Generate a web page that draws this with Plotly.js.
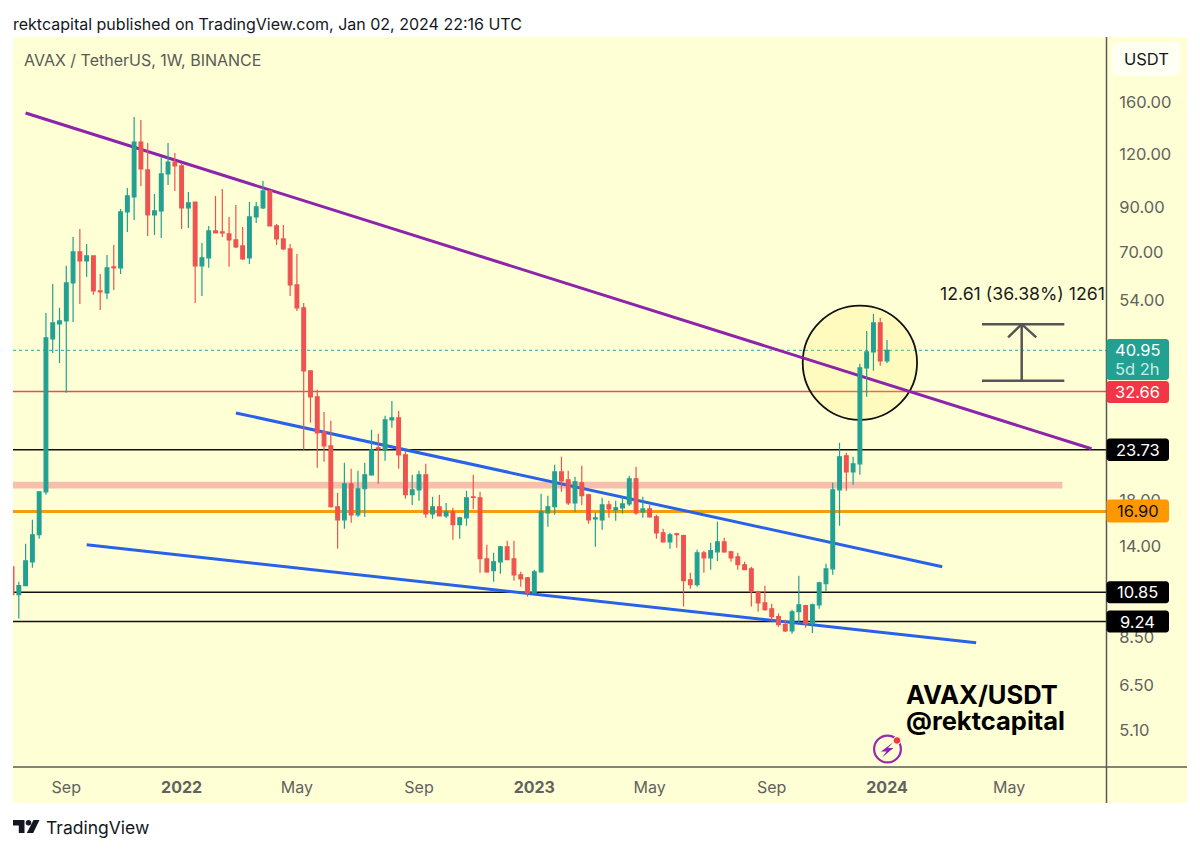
<!DOCTYPE html>
<html>
<head>
<meta charset="utf-8">
<script src="https://cdn.plot.ly/plotly-3.0.1.min.js"></script>
<style>html,body{margin:0;padding:0;background:#fff}#c{width:1200px;height:851px}</style>
</head>
<body>
<div id="c"></div>
<script>
// ---- weekly candle values ----
const firstWeek = '2021-07-12';
const opens = [12.48,10.71,11.25,12.82,14.88,18.83,43.61,47.34,48.12,59.28,70.26,66.88,68.76,56.73,56.11,64.74,64.38,87.5,95.04,128.47,110.2,86.1,88,107.8,115.12,112.66,89.5,92.43,65.09,68.01,78.85,78.41,77.57,75.06,72.64,68.01,85.17,89.5,98.2,81.06,75.48,71.45,58.64,51.69,36.58,31.72,26.17,24.24,17.35,16.15,19.68,16.6,19.15,20.67,23.98,23.71,27.96,28.27,23.07,18.53,19.04,20.67,16.69,17.35,16.51,16.87,15.72,16.33,18.33,18.22,13.04,12.21,12.82,13.93,13.04,11.94,11.75,10.82,12.14,16.78,17.35,21.01,20.11,17.72,19.78,18.53,16.24,16.15,17.52,17.06,17.25,17.62,20.22,16.87,17.14,16.42,15.04,14.31,14.96,14.8,11.62,11.31,13.48,13.11,13.55,14.31,13.55,13.18,12.62,12.34,10.88,10.24,9.91,9.49,9.08,8.78,9.75,10.08,9.13,10.13,11.37,12.34,19.04,22.95,21.01,21.96,37.2,40.59,47.6,38.64];
const highs = [12.82,11.49,14.16,16.15,18.88,50.28,58.96,51.69,65.09,76.3,79.74,73.43,68.9,62.29,69.07,73.03,88.98,99.85,147.4,145,127.8,96.6,118.4,127.8,120.96,114.5,97.65,92.6,73.8,81.06,95.56,99.3,85.17,90.95,80.62,92.43,92.43,103.74,98.75,81.95,81.5,73.43,69.5,53.12,36.7,32.96,29.2,27.8,18.73,22.08,21.37,21.13,22.08,26.47,25.89,28.58,31.02,29.36,23.58,20.67,21.13,21.96,18.33,18.53,17.72,17.25,16.42,18.94,20.67,18.83,14.08,13.48,14,14.39,14.39,12.14,11.8,12.28,18.63,18.43,21.84,22.83,21.13,20.45,21.72,18.63,16.78,18.22,17.92,17.92,18.33,20.56,21.6,18.33,17.52,16.6,15.38,15.04,15.04,14.88,12.07,13.7,13.63,14.23,15.97,14.63,13.63,13.48,12.82,12.48,10.94,11.25,10.19,9.65,9.33,9.86,11.88,10.13,10.2,11.49,12.68,19.78,24.64,23.33,22.83,38.01,45.55,50.01,48.93,43.36];
const lows = [10.65,9.39,11.22,12.41,14.55,18.53,40.37,38.2,32.42,47.85,52.83,61.28,55.51,51.12,54.3,57.05,62.29,78.41,83.76,100.96,76.73,77.15,75.9,101.5,98.2,79.74,80.18,53.12,55.2,64.38,77.8,76.3,64.74,71.84,67.26,65.8,82.39,88.98,81,73.03,71.05,55.2,50.83,23.71,27.5,21.49,22.2,17.25,13.78,15.38,15.89,16.42,16.42,20.56,19.68,22.32,26.76,21.37,18.12,17.52,17.92,16.33,16.24,16.45,16.33,14.47,14.55,15.63,17.14,12.07,12.07,11.49,12.01,12.95,11.56,11.18,10.59,10.76,12.07,15.55,16.6,18.83,17.52,16.87,17.52,15.8,13.93,15.29,16.33,16.06,16.69,17.43,16.6,16.33,16.33,14.55,14.23,13.78,13.85,10.03,11.06,11.18,12.07,12.28,12.89,13.48,12.82,12.28,12.26,10.03,9.75,9.8,9.28,8.98,8.73,8.64,9.18,8.93,8.68,9.91,10.88,11.94,15.63,18.94,19.57,20.67,31.72,36.58,37.6,38.2];
const closes = [10.71,11.25,12.89,14.88,18.83,43.85,47.6,48.12,59.28,70.26,66.88,68.76,56.73,56.41,64.38,64.38,87.5,95.56,128.47,110.8,86.1,88,107.8,115.12,112.66,89.5,91.94,65.09,68.01,78.85,77.99,77.99,75.06,72.24,67.64,85.17,89.97,98.2,81.06,75.48,71.45,58.64,51.69,36.58,31.72,26.03,24.24,17.35,16.15,19.68,16.6,19.15,20.67,23.71,23.85,27.96,28.27,23.07,18.53,19.04,20.67,16.69,17.35,16.51,16.87,15.72,16.33,18.22,18.27,13.04,12.14,12.82,13.93,12.97,11.94,11.68,10.82,12.14,16.87,17.35,21.01,20,17.72,19.89,18.43,16.15,16.33,17.52,17.14,17.25,17.62,20.22,16.78,17.14,16.42,15.04,14.31,14.88,14.88,11.56,11.31,13.48,13.11,13.63,14.31,13.55,13.11,12.62,12.28,10.88,10.24,9.86,9.49,9.08,8.78,9.75,10.13,9.13,10.13,11.43,12.34,19.04,22.83,21.01,21.96,37.2,40.59,47.6,38.64,40.95];

// ---- drawn levels and trend lines (dates, prices) ----
const purpleX = ['2021-07-26','2024-07-30'], purpleY = [150.6,23.85];
const blueUpX = ['2022-02-28','2024-02-27'], blueUpY = [29.04,12.48];
const blueLoX = ['2021-09-27','2024-04-02'], blueLoY = [14.08,8.22];
const lastPrice = 40.95, redLevel = 32.66, blackLevels = [23.73,10.85,9.24], orangeLevel = 16.90;
const bandLow = 19.17, bandHigh = 19.89, bandEnd = '2024-06-30';
const circleX = ['2023-10-06','2024-02-01'], circleY = [27.96,52.35];
const measureX = ['2024-04-08','2024-05-05','2024-05-19','2024-06-03','2024-07-02'];
const measureY = [34.66,43.97,47.27];

// ---- axis labels ----
const priceTicks = [160,120,90,70,54,18,14,8.5,6.5,5.1];
const priceLabels = ['160.00','120.00','90.00','70.00','54.00','18.00','14.00','8.50','6.50','5.10'];
const dateTicks = ['2021-09-06','2022-01-03','2022-05-02','2022-09-05','2023-01-02','2023-05-01','2023-09-04','2024-01-01','2024-05-06'];
const dateLabels = ['Sep','<b>2022</b>','May','Sep','<b>2023</b>','May','Sep','<b>2024</b>','May'];

const weeks = opens.map((_, i) => new Date(Date.parse(firstWeek + 'T00:00:00Z') + i * 7 * 864e5).toISOString().slice(0,10));

const W = 1200, H = 851, mL = 13, mR = 94, mT = 37, mB = 84;
const yLo = 0.6189, yHi = 2.3591;
const font = 'Inter, "Noto Sans", sans-serif';
const GREEN = '#22a092', RED = '#ef5350', AXIS = '#5a5a5a', TICK = '#62625e';

// page pixels -> paper fractions of the plot area
const px = x => ((x - mL) / (W - mL - mR)).toFixed(5);
const py = y => (1 - (y - mT) / (H - mT - mB)).toFixed(5);
const yOf = v => mT + (yHi - Math.log10(v)) / (yHi - yLo) * (H - mT - mB);

const pageShape = (o) => Object.assign({xref:'paper', yref:'paper'}, o);
const pxLine = (x0,y0,x1,y1,color,width) => pageShape({type:'line',x0:px(x0),x1:px(x1),y0:py(y0),y1:py(y1),line:{color:color,width:width},layer:'above'});
function rounded(x0,y0,x1,y1,r,fill,line){
  const k = r*0.45;
  const pts = `M${px(x0+r)} ${py(y0)} L${px(x1-r)} ${py(y0)} C${px(x1-k)} ${py(y0)} ${px(x1)} ${py(y0+k)} ${px(x1)} ${py(y0+r)} L${px(x1)} ${py(y1-r)} C${px(x1)} ${py(y1-k)} ${px(x1-k)} ${py(y1)} ${px(x1-r)} ${py(y1)} L${px(x0+r)} ${py(y1)} C${px(x0+k)} ${py(y1)} ${px(x0)} ${py(y1-k)} ${px(x0)} ${py(y1-r)} L${px(x0)} ${py(y0+r)} C${px(x0)} ${py(y0+k)} ${px(x0+k)} ${py(y0)} ${px(x0+r)} ${py(y0)} Z`;
  return pageShape({type:'path',path:pts,fillcolor:fill,line:line||{width:0},layer:'above'});
}
const poly = (pts,fill) => pageShape({type:'path',path:'M'+pts.map(p=>px(p[0])+' '+py(p[1])).join(' L')+' Z',fillcolor:fill,line:{width:0},layer:'above'});
const disc = (cx,cy,r,fill,line) => pageShape({type:'circle',x0:px(cx-r),x1:px(cx+r),y0:py(cy+r),y1:py(cy-r),fillcolor:fill,line:line||{width:0},layer:'above'});

const dataLine = (x0,y0,x1,y1,color,width,extra) => Object.assign({type:'line',xref:'x',yref:'y',x0,y0,x1,y1,line:{color,width},layer:'below'},extra||{});
const LEFT = '2021-07-13', RIGHT = '2024-08-14';

const shapes = [
  pageShape({type:'rect',x0:px(13),x1:px(1187),y0:py(803),y1:py(37),fillcolor:'#ffffd6',line:{width:0},layer:'below'}),
  // band and levels under the candles
  {type:'rect',xref:'x',yref:'y',x0:LEFT,x1:bandEnd,y0:bandLow,y1:bandHigh,fillcolor:'#f9bfae',line:{width:0},layer:'below'},
  dataLine(LEFT,orangeLevel,RIGHT,orangeLevel,'#f59c0a',3),
  dataLine(LEFT,redLevel,RIGHT,redLevel,'#e0505a',1.5),
  dataLine(LEFT,lastPrice,RIGHT,lastPrice,'#26a69a',1,{line:{color:'#26a69a',width:1,dash:'dot'}}),
  ...blackLevels.map(v => dataLine(LEFT,v,RIGHT,v,'#111111',1.5)),
  // circle
  {type:'circle',xref:'x',yref:'y',x0:circleX[0],x1:circleX[1],y0:circleY[0],y1:circleY[1],fillcolor:'rgba(255,235,90,0.18)',line:{color:'#111111',width:1.8},layer:'below'},
  // trend lines
  dataLine(purpleX[0],purpleY[0],purpleX[1],purpleY[1],'#8e24aa',3),
  dataLine(blueUpX[0],blueUpY[0],blueUpX[1],blueUpY[1],'#2962e8',3),
  dataLine(blueLoX[0],blueLoY[0],blueLoX[1],blueLoY[1],'#2962e8',3),
  // measure tool
  dataLine(measureX[0],measureY[2],measureX[4],measureY[2],'#555555',2.5),
  dataLine(measureX[0],measureY[0],measureX[4],measureY[0],'#555555',2.5),
  dataLine(measureX[2],measureY[0],measureX[2],measureY[2],'#555555',2.5),
  dataLine(measureX[1],measureY[1],measureX[2],measureY[2],'#555555',2.5),
  dataLine(measureX[3],measureY[1],measureX[2],measureY[2],'#555555',2.5),
  // axis frame
  pxLine(13,767,1187,767,AXIS,1.5),
  pxLine(1106.5,37,1106.5,803,AXIS,1.5),
  // USDT button
  rounded(1112,42,1181,76,6,'#fffff2'),
  // price tags
  rounded(1106.5,339,1169,380,3,'#22a092'),
  rounded(1106.5,381,1169,403,3,'#f23645'),
  rounded(1106.5,438.5,1169,461,3,'#000000'),
  rounded(1106.5,499.5,1169,522.5,3,'#ff9800'),
  rounded(1106.5,yOf(10.85)-11,1169,yOf(10.85)+11,3,'#000000'),
  rounded(1106.5,yOf(9.24)-11,1169,yOf(9.24)+11,3,'#000000'),
  // lightning badge
  disc(887.5,749,13.4,'rgba(255,255,255,0)',{color:'#9c27b0',width:2.2}),
  poly([[893,742.5],[881,751.5],[886.5,751.5],[882,757.5],[893.5,748],[888,748]],'#8e24aa'),
  disc(897,740.5,3.8,'#f23645',{color:'#ffffd6',width:1}),
  // TradingView logo
  poly([[13,820],[24.5,820],[24.5,833],[18.8,833],[18.8,825.5],[13,825.5]],'#131722'),
  disc(28.5,822.8,2.8,'#131722'),
  poly([[33.5,820],[39.5,820],[33.2,833],[26.8,833]],'#131722'),
];

const ann = (x,y,text,size,color,anchor) => ({xref:'paper',yref:'paper',x:+px(x),y:+py(y),text,showarrow:false,xanchor:anchor||'left',yanchor:'middle',font:{family:font,size,color},borderpad:0,borderwidth:0});

const annotations = [
  ann(24,60.5,'AVAX / TetherUS, 1W, BINANCE',16,'#5a5a55'),
  ann(1146.5,59,'USDT',16.5,'#131722','center'),
  ann(940,294,'12.61 (36.38%) 1261',17.7,'#1c1c1c'),
  ann(1137.8,350,'40.95',16.5,'#ffffff','center'),
  ann(1137.8,368.5,'5d 2h',16.5,'#c6ece6','center'),
  ann(1137.8,391.7,'32.66',16.5,'#ffffff','center'),
  ann(1137.8,449.8,'23.73',16.5,'#ffffff','center'),
  ann(1137.8,511,'16.90',16.5,'#111111','center'),
  ann(1137.8,yOf(10.85),'10.85',16.5,'#ffffff','center'),
  ann(1137.8,yOf(9.24),'9.24',16.5,'#ffffff','center'),
  ann(906,694,'<b>AVAX/USDT</b>',25.5,'#000000'),
  ann(906,720.5,'<b>@rektcapital</b>',25.5,'#000000'),
  ann(46,827.5,'TradingView',17.5,'#131722'),
];

const trace = {
  type:'candlestick', x:weeks, open:opens, high:highs, low:lows, close:closes,
  increasing:{line:{color:GREEN,width:1.2},fillcolor:GREEN},
  decreasing:{line:{color:RED,width:1.2},fillcolor:RED},
  whiskerwidth:0, hoverinfo:'skip', showlegend:false
};

const layout = {
  width:W, height:H, autosize:false,
  margin:{l:mL,r:mR,t:mT,b:mB,pad:0},
  paper_bgcolor:'#ffffff', plot_bgcolor:'rgba(0,0,0,0)',
  showlegend:false, boxgap:0.22,
  title:{text:'rektcapital published on TradingView.com, Jan 02, 2024 22:16 UTC',x:13/W,xanchor:'left',y:1-24/H,yanchor:'middle',font:{family:font,size:16,color:'#131722'}},
  xaxis:{type:'date',range:[LEFT,RIGHT],rangeslider:{visible:false},showgrid:false,zeroline:false,showline:false,
    tickmode:'array',tickvals:dateTicks,ticktext:dateLabels,ticks:'outside',ticklen:6,tickcolor:'rgba(0,0,0,0)',
    tickfont:{family:font,size:16,color:TICK},fixedrange:true},
  yaxis:{type:'log',side:'right',range:[yLo,yHi],showgrid:false,zeroline:false,showline:false,
    tickmode:'array',tickvals:priceTicks,ticktext:priceLabels,ticks:'outside',ticklen:9,tickcolor:'rgba(0,0,0,0)',
    tickfont:{family:font,size:16.5,color:TICK},fixedrange:true},
  shapes, annotations,
  hovermode:false
};

Plotly.newPlot('c',[trace],layout,{displayModeBar:false,staticPlot:true});
</script>
</body>
</html>
